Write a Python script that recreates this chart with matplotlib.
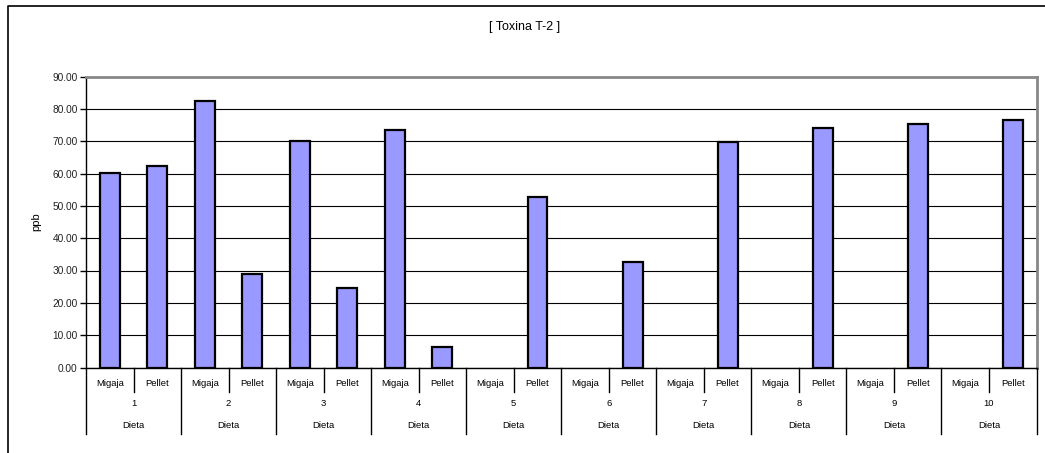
import matplotlib
matplotlib.use("Agg")
import matplotlib.pyplot as plt
import matplotlib.transforms as mtransforms
from matplotlib.lines import Line2D
import numpy as np

plt.rcParams['font.family'] = ['Liberation Sans', 'DejaVu Sans']

groups = ['1', '2', '3', '4', '5', '6', '7', '8', '9', '10']
subcats = ['Migaja', 'Pellet']
group_title = 'Dieta'
migaja = [60.2, 82.3, 69.9, 73.5, 0, 0, 0, 0, 0, 0]
pellet = [62.2, 28.8, 24.7, 6.4, 52.8, 32.7, 69.8, 74.1, 75.3, 76.5]
yticks = [0, 10, 20, 30, 40, 50, 60, 70, 80, 90]

W, H = 1045, 453
fig = plt.figure(figsize=(W / 100, H / 100), dpi=100)
fig.patch.set_facecolor('white')

def fx(p):
    return p / W

def fy(p):
    return 1 - p / H

left, right, top, bottom = 86, 1036.5, 76.5, 367.5
ax = fig.add_axes([fx(left), fy(bottom), fx(right - left), (bottom - top) / H])

values = []
for m, p in zip(migaja, pellet):
    values += [m, p]
xs = np.arange(len(values))
edges = ['black' if v > 0 else 'none' for v in values]
ax.bar(xs, values, width=0.42, color='#9999FF', edgecolor=edges, linewidth=1.6, zorder=3)

ax.set_xlim(-0.5, len(values) - 0.5)
ax.set_ylim(0, 90)
ax.set_yticks(yticks)
ax.set_yticklabels([f'{v:.2f}' for v in yticks], fontsize=7.3, color='#222222')
ax.tick_params(axis='y', direction='out', length=4, width=1, pad=2)
ax.set_xticks([])
ax.yaxis.grid(True, color='black', linewidth=0.8, zorder=0)
ax.set_axisbelow(True)
for s in ['left', 'bottom']:
    ax.spines[s].set_color('black')
    ax.spines[s].set_linewidth(1.0)
for s in ['top', 'right']:
    ax.spines[s].set_color('#888888')
    ax.spines[s].set_linewidth(2.0)

ax.set_ylabel('ppb', fontsize=8, labelpad=8)

fig.text(fx(525), fy(27), '[ Toxina T-2 ]', ha='center', va='center', fontsize=9)

tr = mtransforms.blended_transform_factory(ax.transData, fig.transFigure)
# category labels
for i, x in enumerate(xs):
    ax.text(x, fy(383), subcats[i % 2], transform=tr, ha='center', va='center', fontsize=6.8)
for g, name in enumerate(groups):
    cx = 2 * g + 0.5
    ax.text(cx, fy(403), name, transform=tr, ha='center', va='center', fontsize=6.8)
    ax.text(cx, fy(425), group_title, transform=tr, ha='center', va='center', fontsize=6.8)
# separators
for g in range(len(groups)):
    xm = 2 * g + 0.5
    fig.add_artist(Line2D([xm, xm], [fy(bottom), fy(392)], transform=tr, color='black', linewidth=1.0))
for g in range(len(groups) + 1):
    xb = 2 * g - 0.5
    fig.add_artist(Line2D([xb, xb], [fy(bottom), fy(434)], transform=tr, color='black', linewidth=1.0))

# outer chart frame (partially visible)
fig.add_artist(Line2D([fx(7.5), fx(7.5), fx(W + 5)], [fy(H + 5), fy(5.5), fy(5.5)],
                      transform=fig.transFigure, color='black', linewidth=1.2))

fig.savefig('out.png', dpi=100, facecolor='white')
